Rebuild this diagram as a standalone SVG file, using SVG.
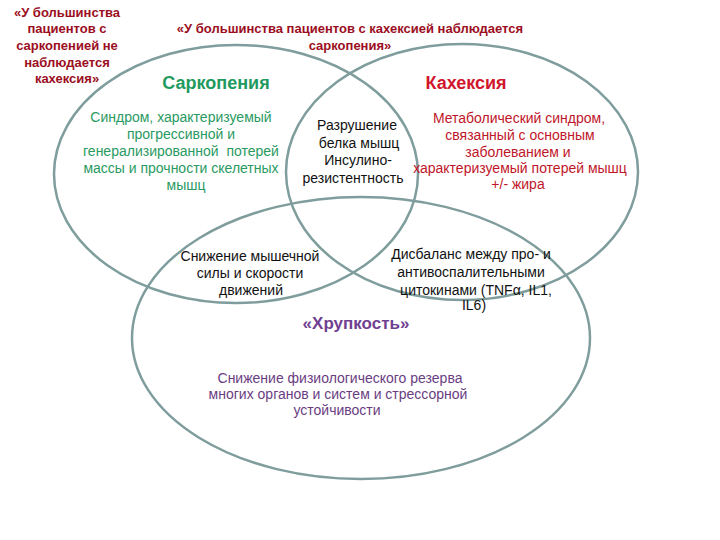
<svg xmlns="http://www.w3.org/2000/svg" width="720" height="540" viewBox="0 0 720 540">
<style>
.c{fill:none;stroke:#7f9d9c;stroke-width:2.5}
text{font-family:"Liberation Sans",Arial,sans-serif;text-anchor:middle}
.q{font-weight:bold;font-size:13px;fill:#9b0e22}
.g{font-size:14px;fill:#2a9a62}
.k{font-size:14px;fill:#111}
.r{font-size:14px;fill:#c0162a}
.p{font-size:14px;fill:#6a3d82}
</style>
<rect width="720" height="540" fill="#fff"/>
<g id="connectors">
<ellipse id="circle-sarcopenia" class="c" cx="236" cy="174" rx="182" ry="129"/>
<ellipse id="circle-cachexia" class="c" cx="462" cy="172" rx="176" ry="128"/>
<ellipse id="circle-frailty" class="c" cx="361" cy="338" rx="229" ry="141"/>
</g>
<g id="note-left" class="q">
<text x="67" y="17">«У большинства</text>
<text x="67" y="33">пациентов с</text>
<text x="67" y="50">саркопенией не</text>
<text x="67" y="67">наблюдается</text>
<text x="67" y="83">кахексия»</text>
</g>
<g id="note-top" class="q">
<text x="350" y="33">«У большинства пациентов с кахексией наблюдается</text>
<text x="350" y="50">саркопения»</text>
</g>
<g id="sarcopenia">
<text x="216" y="89" style="font-size:18px;font-weight:bold;fill:#1f9a5e">Саркопения</text>
<g class="g">
<text x="181" y="122">Синдром, характеризуемый</text>
<text x="181" y="139">прогрессивной и</text>
<text x="181" y="156" style="white-space:pre">генерализированной  потерей</text>
<text x="181" y="173">массы и прочности скелетных</text>
<text x="186" y="190">мышц</text>
</g>
</g>
<g id="cachexia">
<text x="466" y="89" style="font-size:18px;font-weight:bold;fill:#d0162c">Кахексия</text>
<g class="r">
<text x="519" y="123">Метаболический синдром,</text>
<text x="520" y="140">связанный с основным</text>
<text x="518" y="157">заболеванием и</text>
<text x="520" y="173">характеризуемый потерей мышц</text>
<text x="518" y="189">+/- жира</text>
</g>
</g>
<g id="overlap-sc" class="k">
<text x="357" y="130">Разрушение</text>
<text x="359" y="148">белка мышц</text>
<text x="358" y="165">Инсулино-</text>
<text x="353" y="183">резистентность</text>
</g>
<g id="overlap-sf" class="k">
<text x="250" y="261">Снижение мышечной</text>
<text x="250" y="278">силы и скорости</text>
<text x="251" y="295">движений</text>
</g>
<g id="overlap-cf" class="k">
<text x="471" y="259">Дисбаланс между про- и</text>
<text x="471" y="277">антивоспалительными</text>
<text x="476" y="295">цитокинами (TNFα, IL1,</text>
<text x="474" y="310">IL6)</text>
</g>
<g id="frailty">
<text x="356" y="329" style="font-size:17px;font-weight:bold;fill:#6f3f91">«Хрупкость»</text>
<g class="p">
<text x="340" y="383">Снижение физиологического резерва</text>
<text x="338" y="399">многих органов и систем и стрессорной</text>
<text x="337" y="415">устойчивости</text>
</g>
</g>
</svg>
